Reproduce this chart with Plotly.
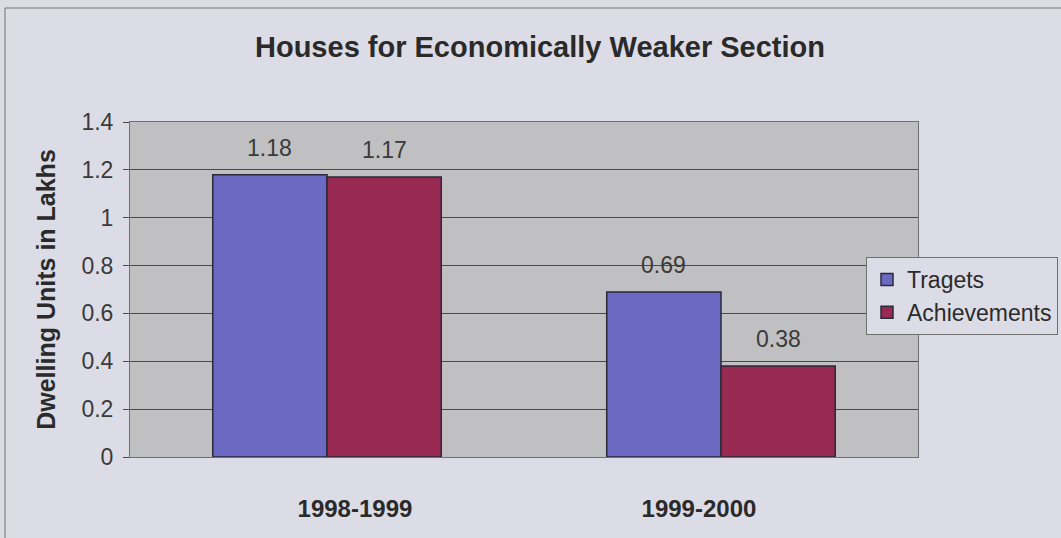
import plotly.graph_objects as go

categories = ["1998-1999", "1999-2000"]
targets = [1.18, 0.69]
achievements = [1.17, 0.38]
y_ticks = [0, 0.2, 0.4, 0.6, 0.8, 1, 1.2, 1.4]
y_tick_text = ["0", "0.2", "0.4", "0.6", "0.8", "1", "1.2", "1.4"]
# category label positions (slightly off-centre in the original)
x_label_pos = [0.071, 0.944]

FONT = "Liberation Sans, Arial, sans-serif"
BARGAP = 0.42

fig = go.Figure()
fig.add_trace(go.Bar(
    x=categories, y=targets, name="Tragets",
    marker=dict(color="#6b69c2", line=dict(color="#2a2a3a", width=1.5)),
))
fig.add_trace(go.Bar(
    x=categories, y=achievements, name="Achievements",
    marker=dict(color="#982a52", line=dict(color="#2a2a3a", width=1.5)),
))

# value labels above bars (positioned via category axis + group offsets)
series = [targets, achievements]
bw = (1 - BARGAP) / len(series)
for j, vals in enumerate(series):
    for i, v in enumerate(vals):
        fig.add_annotation(
            x=i + (j - (len(series) - 1) / 2) * bw, y=v, xref="x", yref="y",
            text=f"{v:.2f}", showarrow=False, yanchor="bottom", yshift=12,
            font=dict(size=23, color="#3a3a3a", family=FONT),
        )

fig.update_layout(
    width=1061, height=538,
    margin=dict(l=130, r=143, t=122, b=81, autoexpand=False),
    paper_bgcolor="#dcdce6",
    plot_bgcolor="#c0c0c2",
    font=dict(family=FONT, color="#2a2a2a"),
    barmode="group", bargap=BARGAP, bargroupgap=0,
    title=dict(text="<b>Houses for Economically Weaker Section</b>",
               x=540/1061, xref="container", xanchor="center",
               y=1-47/538, yref="container", yanchor="middle",
               font=dict(size=29, color="#2a2a2a", family=FONT)),
    legend=dict(x=(866-130)/788, y=(457-257)/335, xanchor="left", yanchor="top",
                bgcolor="#dcdce6", bordercolor="#707070", borderwidth=1,
                font=dict(size=23, color="#2a2a2a", family=FONT),
                itemwidth=30),
    showlegend=True,
)
fig.update_xaxes(
    showline=True, linecolor="#707070", linewidth=1, mirror=True,
    tickmode="array", tickvals=x_label_pos,
    ticktext=[f"<b>{c}</b>" for c in categories],
    tickfont=dict(size=24, color="#2a2a2a", family=FONT, weight="bold"),
    ticklabelstandoff=30, ticks="", range=[-0.5, 1.5],
)
fig.update_yaxes(
    range=[0, 1.4], tickvals=y_ticks, ticktext=y_tick_text,
    showline=True, linecolor="#707070", linewidth=1, mirror=True,
    showgrid=True, gridcolor="#4a4a4a", gridwidth=1,
    ticks="outside", ticklen=6, tickcolor="#4a4a4a",
    ticklabelstandoff=5,
    tickfont=dict(size=23, color="#3a3a3a", family=FONT),
    title=dict(text="<b>Dwelling Units in Lakhs</b>", standoff=18,
               font=dict(size=25, color="#2a2a2a", family=FONT)),
    zeroline=False,
)
fig.add_shape(type="rect", xref="paper", yref="paper",
              x0=(5-130)/788, x1=(1070-130)/788,
              y0=(457-545)/335, y1=(457-8)/335,
              line=dict(color="#707070", width=1), fillcolor="rgba(0,0,0,0)",
              layer="below")

fig.write_html("out.html")
